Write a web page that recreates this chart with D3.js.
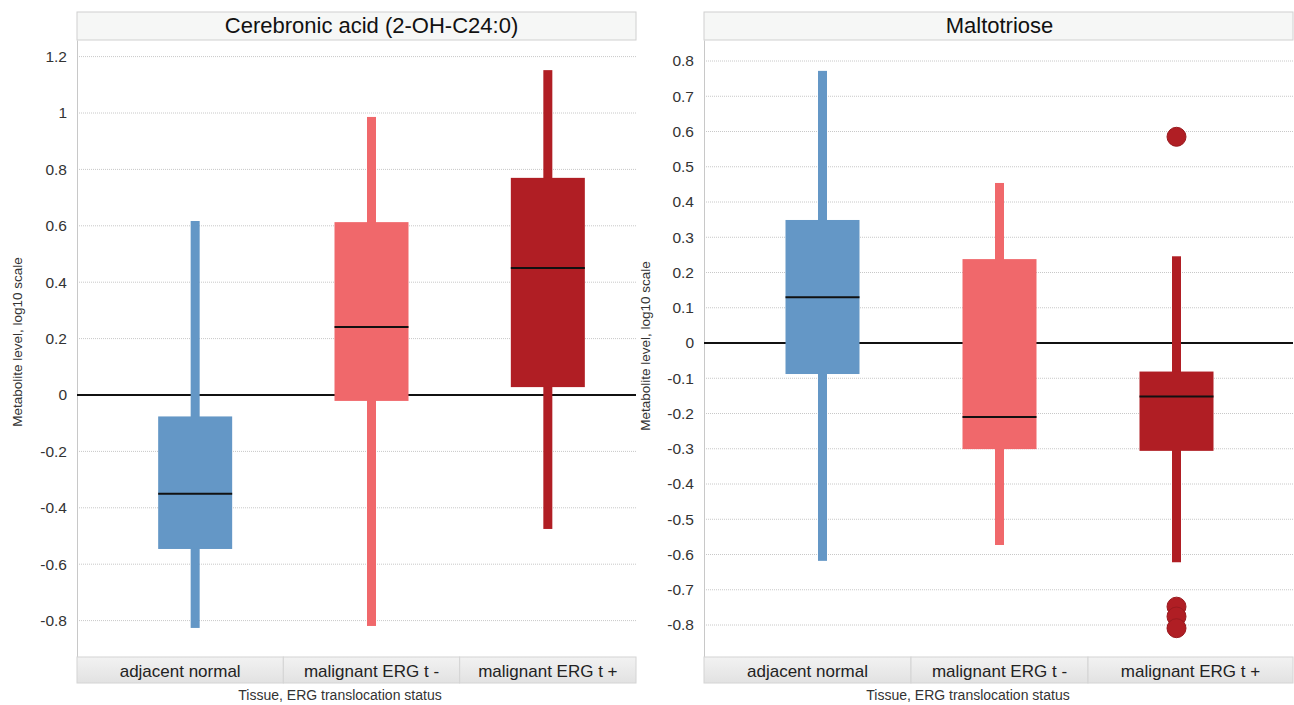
<!DOCTYPE html>
<html><head><meta charset="utf-8">
<script src="https://cdn.jsdelivr.net/npm/d3@7"></script>
<style>
body{margin:0;background:#fff;}
text{font-family:"Liberation Sans",Arial,sans-serif;}
</style></head>
<body><svg id="c" width="1294" height="705"></svg>
<script>
const categories = ["adjacent normal","malignant ERG t -","malignant ERG t +"];
const colors = ["#6497C6","#F0686B","#B01E24"];
// Cerebronic acid: [whiskerLow, q1, median, q3, whiskerHigh]
const cerebronicStats = [
  [-0.826,-0.546,-0.350,-0.076,0.617],
  [-0.819,-0.021,0.241,0.613,0.986],
  [-0.475,0.028,0.450,0.770,1.152]
];
const cerebronicOutliers = [[],[],[]];
const cerebronicTicks = [1.2,1,0.8,0.6,0.4,0.2,0,-0.2,-0.4,-0.6,-0.8];
// Maltotriose
const maltotrioseStats = [
  [-0.618,-0.088,0.130,0.349,0.772],
  [-0.573,-0.301,-0.210,0.238,0.454],
  [-0.622,-0.306,-0.152,-0.081,0.246]
];
const maltotrioseOutliers = [[],[],[0.585,-0.748,-0.776,-0.809]];
const maltotrioseTicks = [0.8,0.7,0.6,0.5,0.4,0.3,0.2,0.1,0,-0.1,-0.2,-0.3,-0.4,-0.5,-0.6,-0.7,-0.8];

const svg = d3.select("#c");
const defs = svg.append("defs");
const g1 = defs.append("linearGradient").attr("id","catgrad").attr("x1",0).attr("y1",0).attr("x2",0).attr("y2",1);
g1.append("stop").attr("offset","0%").attr("stop-color","#f2f2f2");
g1.append("stop").attr("offset","100%").attr("stop-color","#e2e2e2");

function panel(o){
  const top=40, bottom=657;
  const y = d3.scaleLinear().domain(o.domain).range([bottom, top]);
  const x = d3.scaleBand().domain(categories).range([o.bandL,o.bandR]);
  const g = svg.append("g");
  // title band
  g.append("rect").attr("x",o.frameL).attr("y",12).attr("width",o.frameR-o.frameL).attr("height",28)
    .attr("fill","#f6f7f6").attr("stroke","#d0d0d0");
  g.append("text").attr("x",(o.bandL+o.bandR)/2).attr("y",33).attr("text-anchor","middle")
    .attr("font-size",22).attr("fill","#111").text(o.title);
  // grid
  g.selectAll(".grid").data(o.ticks.filter(t=>t!==0)).join("line")
    .attr("x1",o.frameL).attr("x2",o.frameR).attr("y1",d=>y(d)).attr("y2",d=>y(d))
    .attr("stroke","#c8c8c8").attr("stroke-dasharray","1,1");
  // y axis
  const ax = g.append("g").attr("transform",`translate(${o.frameL},0)`)
    .call(d3.axisLeft(y).tickValues(o.ticks).tickSize(0).tickPadding(10).tickFormat(d=>String(d).replace("\u2212","-")));
  ax.select(".domain").attr("stroke","#c8c8c8");
  ax.selectAll("text").attr("font-size",15.5).attr("fill","#333").attr("font-family","Liberation Sans,Arial,sans-serif");
  // zero line
  g.append("line").attr("x1",o.frameL).attr("x2",o.frameR).attr("y1",y(0)).attr("y2",y(0))
    .attr("stroke","#111").attr("stroke-width",2);
  // boxes
  const bw = 74, ww = 9;
  o.stats.forEach((s,i)=>{
    const cx = x(categories[i]) + x.bandwidth()/2;
    g.append("rect").attr("x",cx-ww/2).attr("width",ww).attr("y",y(s[4])).attr("height",y(s[0])-y(s[4]))
      .attr("fill",colors[i]);
    g.append("rect").attr("x",cx-bw/2).attr("width",bw).attr("y",y(s[3])).attr("height",y(s[1])-y(s[3]))
      .attr("fill",colors[i]);
    g.append("line").attr("x1",cx-bw/2).attr("x2",cx+bw/2).attr("y1",y(s[2])).attr("y2",y(s[2]))
      .attr("stroke","#111").attr("stroke-width",2);
    o.outliers[i].forEach(v=>{
      g.append("circle").attr("cx",cx).attr("cy",y(v)).attr("r",9.5)
        .attr("fill",colors[i]).attr("stroke",d3.color(colors[i]).darker(0.4)).attr("stroke-width",1);
    });
  });
  // category band
  const edges = [o.frameL, x(categories[1]), x(categories[2]), o.frameR];
  categories.forEach((c,i)=>{
    g.append("rect").attr("x",edges[i]).attr("y",bottom).attr("width",edges[i+1]-edges[i]).attr("height",26)
      .attr("fill","url(#catgrad)").attr("stroke","#d4d4d4");
    g.append("text").attr("x",(edges[i]+edges[i+1])/2).attr("y",bottom+20).attr("text-anchor","middle")
      .attr("font-size",17).attr("fill","#222").text(c);
  });
  // axis titles
  g.append("text").attr("x",o.xTitleX).attr("y",700).attr("text-anchor","middle")
    .attr("font-size",14).attr("fill","#333").text("Tissue, ERG translocation status");
  g.append("text").attr("transform",`translate(${o.yTitleX},${o.yTitleY}) rotate(-90)`)
    .attr("text-anchor","middle").attr("font-size",13.5).attr("fill","#333").text("Metabolite level, log10 scale");
}

panel({title:"Cerebronic acid (2-OH-C24:0)", frameL:77, frameR:636, bandL:107, bandR:636,
  domain:[(395-657)/282,(395-40)/282], ticks:cerebronicTicks, stats:cerebronicStats, outliers:cerebronicOutliers,
  xTitleX:340, yTitleX:22, yTitleY:342});
panel({title:"Maltotriose", frameL:704, frameR:1293, bandL:734, bandR:1265,
  domain:[(343-657)/352.5,(343-40)/352.5], ticks:maltotrioseTicks, stats:maltotrioseStats, outliers:maltotrioseOutliers,
  xTitleX:968, yTitleX:650, yTitleY:346});
</script></body></html>
